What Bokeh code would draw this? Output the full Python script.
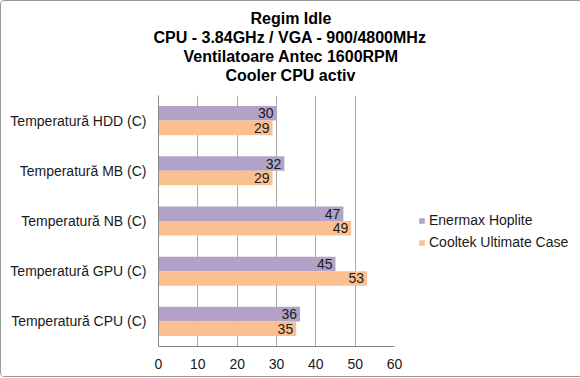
from bokeh.plotting import figure
from bokeh.models import (Range1d, FactorRange, ColumnDataSource, Legend, LegendItem, Title,
                          FixedTicker, LinearAxis)
from bokeh.transform import dodge
from bokeh.core.properties import value
from bokeh.embed import file_html
from bokeh.resources import INLINE

# Data (bottom to top)
categories = ["Temperatură CPU (C)", "Temperatură GPU (C)", "Temperatură NB (C)",
              "Temperatură MB (C)", "Temperatură HDD (C)"]
enermax = [36, 45, 47, 32, 30]
cooltek = [35, 53, 49, 29, 29]
series_names = ["Enermax Hoplite", "Cooltek Ultimate Case"]
title_lines = ["Regim Idle", "CPU - 3.84GHz / VGA - 900/4800MHz",
               "Ventilatoare Antec 1600RPM", "Cooler CPU activ"]
x_ticks = [0, 10, 20, 30, 40, 50, 60]

FONT = "Liberation Sans"
PURPLE = "#B3A2C7"
ORANGE = "#FAC090"

src = ColumnDataSource(dict(cat=categories, enermax=enermax, cooltek=cooltek,
                            lab_e=[str(v) for v in enermax],
                            lab_c=[str(v) for v in cooltek]))

p = figure(frame_width=236, frame_height=251, y_range=FactorRange(*categories),
           x_range=Range1d(0, 60), output_backend="svg", toolbar_location=None,
           title=None, min_border_left=157, min_border_right=183,
           min_border_top=94, min_border_bottom=30)

p.outline_line_color = None
p.background_fill_color = "white"
p.border_fill_color = "white"
p.styles = {"border": "1px solid #9a9a9a", "border-radius": "4px"}

r1 = p.hbar(y=dodge("cat", 0.145, range=p.y_range), right="enermax", left=0,
            height=0.29, source=src, fill_color=PURPLE, line_color=None)
r2 = p.hbar(y=dodge("cat", -0.145, range=p.y_range), right="cooltek", left=0,
            height=0.29, source=src, fill_color=ORANGE, line_color=None)

p.text(x="enermax", y=dodge("cat", 0.145, range=p.y_range), text="lab_e", source=src,
       text_align="right", text_baseline="middle", x_offset=-3,
       text_font=value(FONT), text_font_size="14px", text_color="#1a1a1a")
p.text(x="cooltek", y=dodge("cat", -0.145, range=p.y_range), text="lab_c", source=src,
       text_align="right", text_baseline="middle", x_offset=-3,
       text_font=value(FONT), text_font_size="14px", text_color="#1a1a1a")

# axes
p.xaxis.ticker = FixedTicker(ticks=x_ticks)
p.xaxis.major_tick_line_color = None
p.xaxis.minor_tick_line_color = None
p.xaxis.axis_line_color = "#888888"
p.xaxis.major_label_text_font = FONT
p.xaxis.major_label_text_font_size = "14px"
p.xaxis.major_label_text_color = "#1a1a1a"
p.xaxis.major_label_standoff = 6

p.yaxis.major_tick_line_color = None
p.yaxis.minor_tick_line_color = None
p.yaxis.axis_line_color = "#888888"
p.yaxis.major_label_text_font = FONT
p.yaxis.major_label_text_font_size = "14px"
p.yaxis.major_label_text_color = "#1a1a1a"
p.yaxis.major_label_standoff = 6

p.xgrid.grid_line_color = "#ABABAB"
p.ygrid.grid_line_color = None

# invisible spacer between the title block and the plot area
spacer = LinearAxis(ticker=FixedTicker(ticks=[30]), major_label_overrides={30: ""},
                    major_tick_out=12, major_tick_in=0,
                    minor_tick_out=0, minor_tick_in=0, major_tick_line_color="white",
                    minor_tick_line_color=None, axis_line_color=None,
                    major_label_standoff=0)
p.add_layout(spacer, "above")

# titles: left-aligned with offsets so each line is centred on the whole chart
title_offsets = [92, -5, 25, 67]
for line, off in reversed(list(zip(title_lines, title_offsets))):
    t = Title(text=line, align="left", offset=off, standoff=0,
              text_font=FONT, text_font_size="16px", text_font_style="bold",
              text_color="#000000")
    p.add_layout(t, "above")

legend = Legend(items=[LegendItem(label=series_names[0], renderers=[r1]),
                       LegendItem(label=series_names[1], renderers=[r2])],
                location=(24, 95), glyph_width=7, glyph_height=7,
                label_text_font=FONT, label_text_font_size="14px",
                label_text_color="#1a1a1a", label_standoff=4,
                label_height=18, spacing=4, padding=4, margin=0,
                border_line_color=None, background_fill_alpha=0)
p.add_layout(legend, "right")

open("out.html", "w").write(file_html(p, INLINE))
